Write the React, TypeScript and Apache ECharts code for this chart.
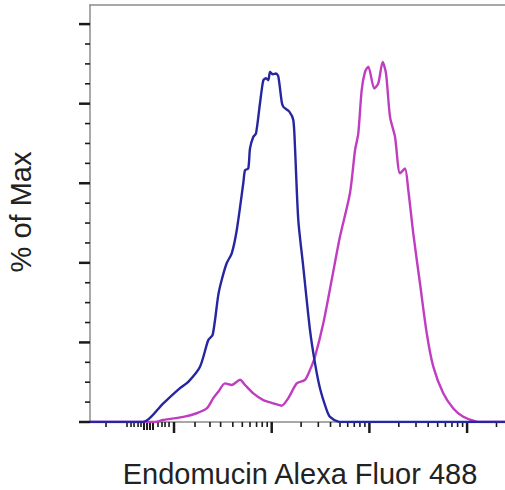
import React, { useEffect, useRef } from "react";
import * as echarts from "echarts";

// x is in display decades (2 = 10^2, 3 = 10^3, ...), y is % of Max
const X_MIN = 1.14;
const X_MAX = 5.388;
const Y_MAX = 104.8;

const isotypeCurve: [number, number][] = [
  [1.14, 0], [1.683, 0], [1.89, 4.7], [2.061, 8.5], [2.146, 10.1], [2.266, 13.9],
  [2.351, 20.6], [2.396, 21.9], [2.453, 31.9], [2.488, 35.7], [2.539, 39.9],
  [2.591, 42.4], [2.642, 48.2], [2.709, 60.0], [2.727, 63.3], [2.76, 63.7],
  [2.778, 68.8], [2.812, 71.7], [2.839, 72.5], [2.88, 80.1], [2.914, 85.9],
  [2.942, 86.4], [2.965, 85.9], [2.983, 88.0], [3.01, 87.4], [3.044, 87.6],
  [3.068, 86.8], [3.102, 80.5], [3.119, 79.2], [3.18, 78.0], [3.221, 75.9],
  [3.238, 69.2], [3.272, 50.8], [3.323, 39.0], [3.392, 23.1], [3.443, 14.8],
  [3.494, 8.5], [3.563, 3.0], [3.597, 1.3], [3.682, 0.1], [3.75, 0], [5.388, 0],
];

const stainedCurve: [number, number][] = [
  [1.14, 0], [1.806, 0], [1.887, 0.5], [2.095, 1.3], [2.232, 2.2], [2.335, 3.4],
  [2.402, 6.0], [2.453, 7.6], [2.522, 9.7], [2.591, 9.3], [2.676, 10.6],
  [2.727, 9.3], [2.812, 7.2], [2.914, 5.5], [3.016, 4.7], [3.102, 4.1],
  [3.17, 6.0], [3.256, 9.7], [3.341, 10.6], [3.392, 13.1], [3.443, 16.4],
  [3.528, 24.8], [3.614, 35.7], [3.699, 46.6], [3.801, 57.5], [3.853, 68.3],
  [3.886, 72.5], [3.921, 83.4], [3.955, 88.0], [3.989, 89.3], [4.05, 83.8],
  [4.091, 85.1], [4.136, 90.5], [4.17, 87.6], [4.211, 76.7], [4.262, 71.7],
  [4.313, 62.5], [4.364, 63.7], [4.398, 58.3], [4.449, 47.4], [4.518, 34.8],
  [4.587, 22.3], [4.654, 13.9], [4.756, 7.2], [4.859, 3.4], [4.961, 1.3],
  [5.098, 0.1], [5.183, 0], [5.388, 0],
];

const xMajorTicks = [2, 3, 4, 5];
const xMidTicks = [1.693, 1.724, 1.754, 1.785];
const xMinorTicks = [
  1.304, 1.519, 1.56, 1.591, 1.632, 1.662, 1.836, 1.877, 1.908, 1.949,
  2.215, 2.368, 2.477, 2.602, 2.699, 2.778, 2.845, 2.903, 2.954,
  3.301, 3.477, 3.602, 3.699, 3.778, 3.845, 3.903, 3.954,
  4.301, 4.477, 4.602, 4.699, 4.778, 4.845, 4.903, 4.954,
  5.301,
];
const yMajorTicks = [0, 20, 40, 60, 80, 100];
const yMinorTicks = [5, 10, 15, 25, 30, 35, 45, 50, 55, 65, 70, 75, 85, 90, 95];

const xAxisTitle = "Endomucin Alexa Fluor 488";
const yAxisTitle = "% of Max";

export default function App() {
  const ref = useRef<HTMLDivElement>(null);

  useEffect(() => {
    if (!ref.current) return;
    const chart = echarts.init(ref.current, undefined, { renderer: "svg" });

    const xTickData = [
      ...xMajorTicks.map((v) => [v, 0, 11, 2.5]),
      ...xMidTicks.map((v) => [v, 0, 8, 2]),
      ...xMinorTicks.map((v) => [v, 0, 5, 1.6]),
    ];
    const yTickData = [
      ...yMajorTicks.map((v) => [X_MIN, v, 11, 2.5]),
      ...yMinorTicks.map((v) => [X_MIN, v, 5, 1.6]),
    ];

    const axisGray = "#8c8c8c";
    const font = "'Liberation Sans', Arial, sans-serif";

    chart.setOption({
      animation: false,
      grid: { left: 90, right: 0, top: 5, bottom: 68, containLabel: false },
      xAxis: [
        {
          type: "value",
          min: X_MIN,
          max: X_MAX,
          position: "bottom",
          axisLine: { show: true, lineStyle: { color: axisGray, width: 1.5 } },
          axisTick: { show: false },
          axisLabel: { show: false },
          splitLine: { show: false },
        },
        {
          type: "value",
          min: X_MIN,
          max: X_MAX,
          position: "top",
          axisLine: { show: true, lineStyle: { color: axisGray, width: 1.5 } },
          axisTick: { show: false },
          axisLabel: { show: false },
          splitLine: { show: false },
        },
      ],
      yAxis: {
        type: "value",
        min: 0,
        max: Y_MAX,
        axisLine: { show: true, lineStyle: { color: axisGray, width: 1.5 } },
        axisTick: { show: false },
        axisLabel: { show: false },
        splitLine: { show: false },
      },
      graphic: [
        {
          type: "text",
          x: 300,
          y: 474,
          style: {
            text: xAxisTitle,
            font: `29px ${font}`,
            fill: "#222",
            textAlign: "center",
            textVerticalAlign: "middle",
          },
        },
        {
          type: "text",
          x: 21,
          y: 212,
          rotation: Math.PI / 2,
          style: {
            text: yAxisTitle,
            font: `29px ${font}`,
            fill: "#222",
            textAlign: "center",
            textVerticalAlign: "middle",
          },
        },
      ],
      series: [
        {
          type: "custom",
          name: "xticks",
          clip: false,
          silent: true,
          z: 1,
          data: xTickData,
          renderItem: (_p: any, api: any) => {
            const pt = api.coord([api.value(0), 0]);
            return {
              type: "line",
              shape: { x1: pt[0], y1: pt[1], x2: pt[0], y2: pt[1] + api.value(2) },
              style: { stroke: "#1a1a1a", lineWidth: api.value(3) },
            };
          },
        },
        {
          type: "custom",
          name: "yticks",
          clip: false,
          silent: true,
          z: 1,
          data: yTickData,
          renderItem: (_p: any, api: any) => {
            const pt = api.coord([X_MIN, api.value(1)]);
            return {
              type: "line",
              shape: { x1: pt[0] - api.value(2), y1: pt[1], x2: pt[0], y2: pt[1] },
              style: { stroke: "#1a1a1a", lineWidth: api.value(3) },
            };
          },
        },
        {
          type: "line",
          name: "stained",
          data: stainedCurve,
          showSymbol: false,
          smooth: 0.25,
          z: 3,
          lineStyle: { color: "#c03cc0", width: 2.4 },
        },
        {
          type: "line",
          name: "isotype",
          data: isotypeCurve,
          showSymbol: false,
          smooth: 0.25,
          z: 4,
          lineStyle: { color: "#2626a0", width: 2.4 },
        },
      ],
    });

    return () => chart.dispose();
  }, []);

  return (
    <div
      ref={ref}
      style={{ position: "absolute", left: 0, top: 0, width: 505, height: 490 }}
    />
  );
}
